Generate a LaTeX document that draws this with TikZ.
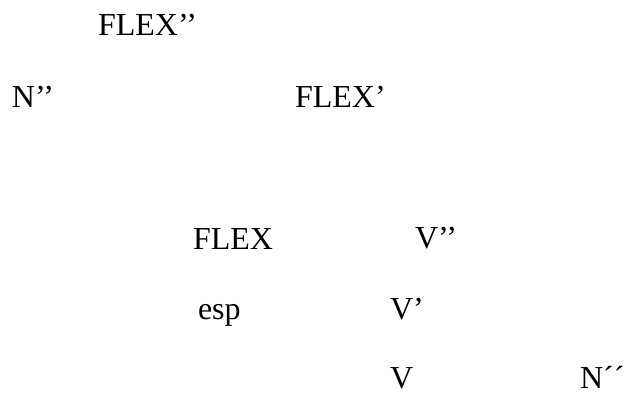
\documentclass[tikz,border=0pt]{standalone}
\usepackage{fontspec}
\setmainfont{Liberation Serif}
\begin{document}
\begin{tikzpicture}[x=1pt,y=-1pt,
  lbl/.style={anchor=base west,inner sep=0pt,outer sep=0pt,
              font=\fontsize{32}{38}\selectfont}]
\useasboundingbox (0,0) rectangle (626,394);
% category labels of the tree
\node[lbl] (flexpp) at (98,35)   {FLEX’’};
\node[lbl] (npp)    at (12,107)  {N’’};
\node[lbl] (flexp)  at (295,107) {FLEX’};
\node[lbl] (flex)   at (193,249) {FLEX};
\node[lbl] (vpp)    at (415,248) {V’’};
\node[lbl] (esp)    at (198,319) {esp};
\node[lbl] (vp)     at (390,319) {V’};
\node[lbl] (v)      at (390,388) {V};
\node[lbl] (nobj)   at (580,388) {N´´};
\end{tikzpicture}
\end{document}
